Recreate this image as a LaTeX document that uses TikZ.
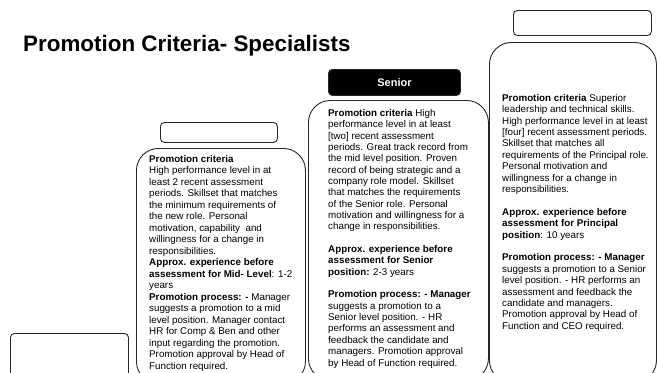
\documentclass[tikz,border=0pt]{standalone}
\usepackage{fontspec}
\setmainfont{Liberation Sans}
\begin{document}
\begin{tikzpicture}[x=1pt,y=-1pt,
  lbl/.style={draw=black!85, line width=0.9pt, rounded corners=4pt, inner sep=0pt, anchor=north west},
  card/.style={draw=black!85, line width=0.9pt, rounded corners=22pt, inner sep=0pt, anchor=north west},
  body/.style={anchor=north west, align=left, inner sep=0pt}]
\useasboundingbox (0,0) rectangle (658,372);
\clip (0,0) rectangle (658,372);
\node[anchor=base west, inner sep=0pt, font=\bfseries\fontsize{22.4}{26}\selectfont] (title) at (23,51) {Promotion Criteria- Specialists};
% Junior
\node[lbl, minimum width=118pt, minimum height=50pt] (jrlbl) at (10,333) {};
% Mid
\node[lbl, minimum width=117pt, minimum height=20pt] (midlbl) at (160,122) {};
\node[card, minimum width=169pt, minimum height=235pt] (midcard) at (136,148) {};
\node[body, font=\fontsize{9.8}{11.5}\selectfont] (midtext) at (149,155) {%
\textbf{Promotion criteria}\\
High performance level in at\\
least 2 recent assessment\\
periods. Skillset that matches\\
the minimum requirements of\\
the new role. Personal\\
motivation, capability\ \ and\\
willingness for a change in\\
responsibilities.\\
\textbf{Approx. experience before}\\
\textbf{assessment for Mid- Level}: 1-2\\
years\\
\textbf{Promotion process: -} Manager\\
suggests a promotion to a mid\\
level position. Manager contact\\
HR for Comp \& Ben and other\\
input regarding the promotion.\\
Promotion approval by Head of\\
Function required.};
% Senior
\node[lbl, fill=black, minimum width=132pt, minimum height=26pt, text=white, font=\bfseries\fontsize{11}{13}\selectfont] (srlbl) at (328,69) {Senior};
\node[card, minimum width=180pt, minimum height=280pt] (srcard) at (308,100) {};
\node[body, font=\fontsize{9.8}{11.35}\selectfont] (srtext) at (328,109) {%
\textbf{Promotion criteria} High\\
performance level in at least\\
{[two]} recent assessment\\
periods. Great track record from\\
the mid level position. Proven\\
record of being strategic and a\\
company role model. Skillset\\
that matches the requirements\\
of the Senior role. Personal\\
motivation and willingness for a\\
change in responsibilities.\\[11.35pt]
\textbf{Approx. experience before}\\
\textbf{assessment for Senior}\\
\textbf{position:} 2-3 years\\[11.35pt]
\textbf{Promotion process: - Manager}\\
suggests a promotion to a\\
Senior level position. - HR\\
performs an assessment and\\
feedback the candidate and\\
managers. Promotion approval\\
by Head of Function required.};
% Principal
\node[lbl, minimum width=138pt, minimum height=25pt] (prlbl) at (513,10) {};
\node[card, minimum width=167pt, minimum height=340pt] (prcard) at (489,42) {};
\node[body, font=\fontsize{9.8}{11.4}\selectfont] (prtext) at (502,94) {%
\textbf{Promotion criteria} Superior\\
leadership and technical skills.\\
High performance level in at least\\
{[four]} recent assessment periods.\\
Skillset that matches all\\
requirements of the Principal role.\\
Personal motivation and\\
willingness for a change in\\
responsibilities.\\[11.4pt]
\textbf{Approx. experience before}\\
\textbf{assessment for Principal}\\
\textbf{position}: 10 years\\[11.4pt]
\textbf{Promotion process: - Manager}\\
suggests a promotion to a Senior\\
level position. - HR performs an\\
assessment and feedback the\\
candidate and managers.\\
Promotion approval by Head of\\
Function and CEO required.};
\end{tikzpicture}
\end{document}
